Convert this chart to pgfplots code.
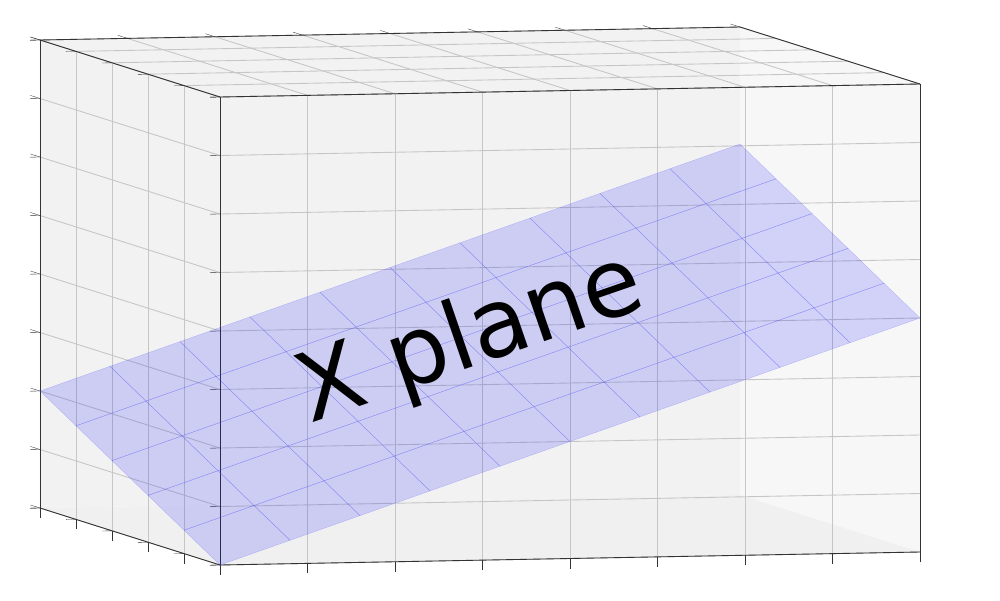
\documentclass[border=0pt]{standalone}
\usepackage{pgfplots}
\pgfplotsset{compat=1.18}
\usepackage{fontspec}
\setmainfont{DejaVu Sans}
\begin{document}
\begin{tikzpicture}
\begin{axis}[
  set layers,
  x={(14cm,0.26cm)}, y={(3.6cm,-1.14cm)}, z={(0cm,9.36cm)},
  xmin=0,xmax=1,ymin=0,ymax=1,zmin=0,zmax=1,
  xtick={0,0.125,...,1}, ytick={0,0.2,...,1}, ztick={0,0.125,...,1},
  xticklabels={}, yticklabels={}, zticklabels={},
  tick pos=left,
  grid=major, grid style={gray!45, line width=0.5pt},
  axis line style={black!80, line width=0.5pt},
  tick style={black!80}, tick align=outside, major tick length=0.2cm,
  clip=false,
  colormap={bb}{color=(blue!70) color=(blue!70)},
]
% panes
\addplot3[on layer=axis background, fill=gray!10, draw=none, forget plot] coordinates {(0,0,0) (1,0,0) (1,0,1) (0,0,1) (0,0,0)};
\addplot3[on layer=axis background, fill=gray!6, draw=none, forget plot] coordinates {(1,0,0) (1,1,0) (1,1,1) (1,0,1) (1,0,0)};
\addplot3[on layer=axis background, fill=gray!12, draw=none, forget plot] coordinates {(0,0,0) (1,0,0) (1,1,0) (0,1,0) (0,0,0)};
\addplot3[surf, mesh/cols=11, shader=flat corner, fill=blue, fill opacity=0.15,
  faceted color=blue!60, line width=0.2pt, draw opacity=0.3] table {
x y z
0 0 0.25
0.1 0 0.30
0.2 0 0.35
0.3 0 0.40
0.4 0 0.45
0.5 0 0.50
0.6 0 0.55
0.7 0 0.60
0.8 0 0.65
0.9 0 0.70
1 0 0.75
0 0.2 0.20
0.1 0.2 0.25
0.2 0.2 0.30
0.3 0.2 0.35
0.4 0.2 0.40
0.5 0.2 0.45
0.6 0.2 0.50
0.7 0.2 0.55
0.8 0.2 0.60
0.9 0.2 0.65
1 0.2 0.70
0 0.4 0.15
0.1 0.4 0.20
0.2 0.4 0.25
0.3 0.4 0.30
0.4 0.4 0.35
0.5 0.4 0.40
0.6 0.4 0.45
0.7 0.4 0.50
0.8 0.4 0.55
0.9 0.4 0.60
1 0.4 0.65
0 0.6 0.10
0.1 0.6 0.15
0.2 0.6 0.20
0.3 0.6 0.25
0.4 0.6 0.30
0.5 0.6 0.35
0.6 0.6 0.40
0.7 0.6 0.45
0.8 0.6 0.50
0.9 0.6 0.55
1 0.6 0.60
0 0.8 0.05
0.1 0.8 0.10
0.2 0.8 0.15
0.3 0.8 0.20
0.4 0.8 0.25
0.5 0.8 0.30
0.6 0.8 0.35
0.7 0.8 0.40
0.8 0.8 0.45
0.9 0.8 0.50
1 0.8 0.55
0 1 0.00
0.1 1 0.05
0.2 1 0.10
0.3 1 0.15
0.4 1 0.20
0.5 1 0.25
0.6 1 0.30
0.7 1 0.35
0.8 1 0.40
0.9 1 0.45
1 1 0.50
};
\node[rotate=19, font=\fontsize{54}{58}\selectfont] at (axis cs:0.5,0.45,0.4) {X plane};
\coordinate (O) at (axis cs:0,0,0);
\end{axis}
\path[use as bounding box] (O) ++(-0.8cm,-1.84cm) rectangle ++(20cm,12cm);
\end{tikzpicture}
\end{document}
